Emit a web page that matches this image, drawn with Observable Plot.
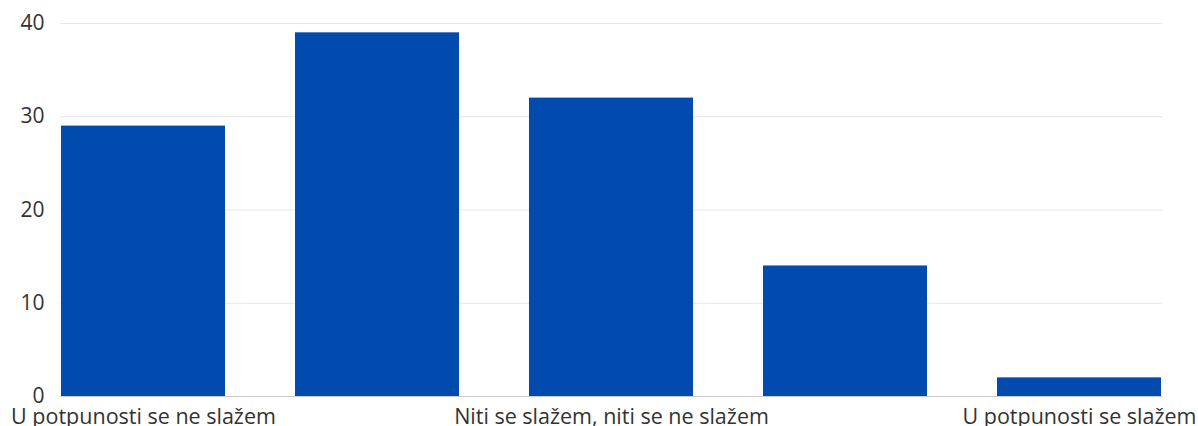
<!DOCTYPE html>
<html>
<head>
<meta charset="utf-8">
<script src="https://cdn.jsdelivr.net/npm/d3@7"></script>
<script src="https://cdn.jsdelivr.net/npm/@observablehq/plot@0.6"></script>
<style>
  html, body { margin: 0; padding: 0; background: #fff; }
  #chart svg { display: block; }
</style>
</head>
<body>
<div id="chart"></div>
<script>
const categories = ["U potpunosti se ne slažem", "Ne slažem se", "Niti se slažem, niti se ne slažem", "Slažem se", "U potpunosti se slažem"];
const values = [29, 39, 32, 14, 2];
const shownLabels = ["U potpunosti se ne slažem", "Niti se slažem, niti se ne slažem", "U potpunosti se slažem"];
const yTicks = [0, 10, 20, 30, 40];

const data = categories.map((c, i) => ({category: c, value: values[i]}));

const chart = Plot.plot({
  width: 1198,
  height: 426,
  marginLeft: 60,
  marginRight: 36,
  marginTop: 23,
  marginBottom: 30,
  style: {fontFamily: "'Open Sans', sans-serif", fontSize: "21px", color: "#333", background: "#fff"},
  x: {domain: categories, paddingInner: 0.3, paddingOuter: 0, label: null},
  y: {domain: [0, 40], label: null},
  marks: [
    Plot.gridY(yTicks, {stroke: "#e6e6e6", strokeOpacity: 1}),
    Plot.barY(data, {x: "category", y: "value", fill: "#004BAD"}),
    Plot.ruleY([0], {stroke: "#cccccc"}),
    Plot.axisY(yTicks, {tickSize: 0, tickPadding: 16, fontSize: 21, fill: "#333", label: null}),
    Plot.axisX(shownLabels, {tickSize: 0, tickPadding: 12, fontSize: 21.5, fill: "#333", label: null})
  ]
});
document.getElementById("chart").appendChild(chart);
</script>
</body>
</html>
